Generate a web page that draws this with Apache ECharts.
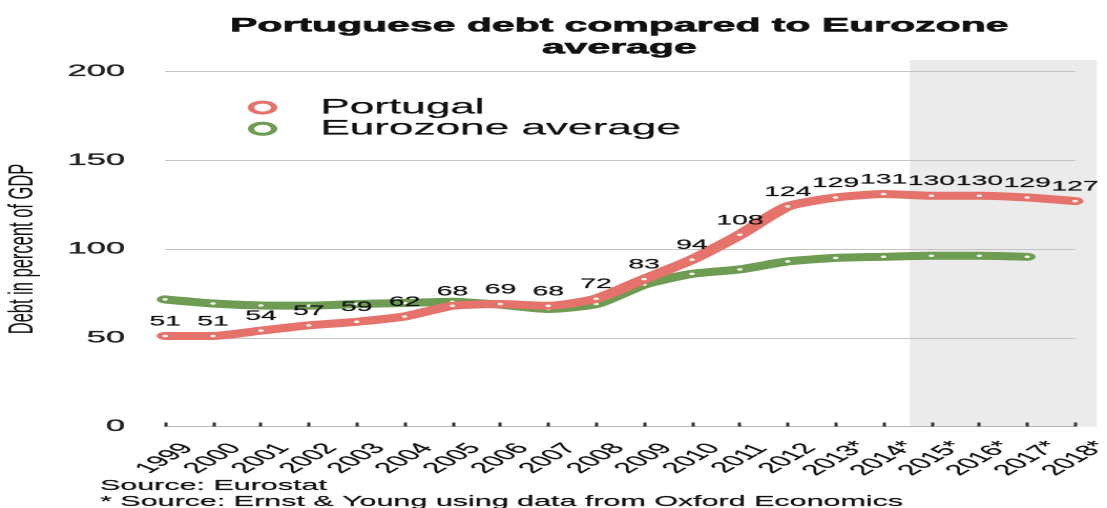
<!DOCTYPE html>
<html>
<head>
<meta charset="utf-8">
<script src="https://cdn.jsdelivr.net/npm/echarts@6/dist/echarts.min.js"></script>
<style>
  html, body { margin: 0; padding: 0; background: #fff; overflow: hidden; }
  #wrap { width: 1107px; height: 508px; overflow: hidden; }
  /* the chart is laid out narrow and widened horizontally */
  #chart { width: 527px; height: 508px; transform: scaleX(2.1006); transform-origin: 0 0; }
</style>
</head>
<body>
<div id="wrap"><div id="chart"></div></div>
<script>
const years = ['1999', '2000', '2001', '2002', '2003', '2004', '2005', '2006', '2007', '2008',
  '2009', '2010', '2011', '2012', '2013*', '2014*', '2015*', '2016*', '2017*', '2018*'];
const portugal = [51, 51, 54, 57, 59, 62, 68, 69, 68, 72, 83, 94, 108, 124, 129, 131, 130, 130, 129, 127];
const eurozone = [71.6, 69.3, 68.2, 68.1, 69.0, 69.6, 70.3, 68.6, 66.2, 69.0, 80.0, 86.0, 88.5, 93.0,
  95.0, 95.6, 96.2, 96.2, 95.6, null];
const yTicks = [0, 50, 100, 150, 200];
const seriesNames = ['Portugal', 'Eurozone average'];
const titleText = 'Portuguese debt compared to Eurozone\naverage';
const yAxisTitle = 'Debt in percent of GDP';
const sourceLines = ['Source: Eurostat', '* Source: Ernst & Young using data from Oxford Economics'];

const RED = '#e5736c';
const GREEN = '#6d9c52';
const INK = '#111';
const FONT = '"Liberation Sans", Arial, Helvetica, sans-serif';

const chart = echarts.init(document.getElementById('chart'), null, { renderer: 'canvas', devicePixelRatio: 2 });

chart.setOption({
  animation: false,
  backgroundColor: '#fff',
  textStyle: { fontFamily: FONT },
  title: [
    {
      text: titleText,
      left: 294.8,
      top: 15,
      padding: 0,
      textAlign: 'center',
      textStyle: {
        fontFamily: FONT, fontSize: 19.5, fontWeight: 'bold', color: INK, lineHeight: 22,
        textBorderColor: INK, textBorderWidth: 0.6
      }
    },
    {
      text: sourceLines.join('\n'),
      left: 47.6,
      top: 478,
      padding: 0,
      textStyle: {
        fontFamily: FONT, fontSize: 14.5, fontWeight: 'normal', color: INK, lineHeight: 16,
        textBorderColor: INK, textBorderWidth: 0.2
      }
    }
  ],
  legend: {
    data: [
      { name: seriesNames[0], itemStyle: { color: '#fff', borderColor: RED, borderWidth: 3 } },
      { name: seriesNames[1], itemStyle: { color: '#fff', borderColor: GREEN, borderWidth: 3 } }
    ],
    orient: 'vertical',
    left: 118,
    top: 97,
    padding: 0,
    itemGap: 0,
    itemWidth: 11,
    itemHeight: 11,
    icon: 'circle',
    textStyle: {
      fontFamily: FONT, fontSize: 21, color: INK, lineHeight: 21, padding: [0, 0, 0, 17],
      textBorderColor: INK, textBorderWidth: 0.2
    }
  },
  grid: {
    left: 78.6, right: 15.2, top: 71.5, bottom: 81.5,
    containLabel: false, outerBoundsMode: 'none'
  },
  xAxis: {
    type: 'category',
    data: years,
    boundaryGap: false,
    axisLine: { lineStyle: { color: '#b5b5b5', width: 1 } },
    axisTick: { inside: true, length: 4, interval: 0, lineStyle: { color: '#333', width: 1.5 } },
    axisLabel: {
      interval: 0, rotate: 50, align: 'center', verticalAlign: 'middle', margin: 32,
      fontSize: 15, color: INK, fontFamily: FONT, textBorderColor: INK, textBorderWidth: 0.2
    },
    splitLine: { show: false }
  },
  yAxis: {
    type: 'value',
    min: yTicks[0],
    max: yTicks[yTicks.length - 1],
    interval: yTicks[1] - yTicks[0],
    name: yAxisTitle,
    nameLocation: 'middle',
    nameGap: 59,
    nameTextStyle: { fontFamily: FONT, fontSize: 16.5, color: INK },
    axisLine: { show: false },
    axisTick: { show: false },
    axisLabel: {
      fontSize: 16.5, color: '#222', margin: 19, fontFamily: FONT,
      textBorderColor: '#222', textBorderWidth: 0.3
    },
    splitLine: { lineStyle: { color: '#c4c4c4', width: 1 } }
  },
  series: [
    {
      name: seriesNames[1],
      type: 'line',
      data: eurozone,
      smooth: 0.2,
      color: GREEN,
      lineStyle: { color: GREEN, width: 8, cap: 'round', join: 'round' },
      symbol: 'circle',
      symbolSize: 2.5,
      showAllSymbol: true,
      itemStyle: { color: '#fff', borderWidth: 0 },
      label: { show: false },
      z: 2
    },
    {
      name: seriesNames[0],
      type: 'line',
      data: portugal,
      smooth: 0.2,
      color: RED,
      lineStyle: { color: RED, width: 8, cap: 'round', join: 'round' },
      symbol: 'circle',
      symbolSize: 2.5,
      showAllSymbol: true,
      itemStyle: { color: '#fff', borderWidth: 0 },
      label: {
        show: true, position: 'top', distance: 6,
        fontSize: 13.5, color: INK, fontFamily: FONT,
        textBorderColor: INK, textBorderWidth: 0.2
      },
      z: 3
    }
  ]
});

// shaded band behind the forecast years, placed from the axes' own scales
function drawForecastBand() {
  const px = i => chart.convertToPixel({ xAxisIndex: 0 }, i);
  const start = years.indexOf('2014*');
  const last = years.length - 1;
  const step = px(1) - px(0);
  const x0 = px(start) + step * 0.55;
  const x1 = px(last) + step * 0.45;
  const yTop = chart.convertToPixel({ yAxisIndex: 0 }, 206.5);
  const yBot = chart.convertToPixel({ yAxisIndex: 0 }, 0);
  chart.setOption({
    graphic: [{
      type: 'rect', silent: true, z: -1,
      shape: { x: x0, y: yTop, width: x1 - x0, height: yBot - yTop },
      style: { fill: '#ebebeb' }
    }]
  });
}
drawForecastBand();
</script>
</body>
</html>
